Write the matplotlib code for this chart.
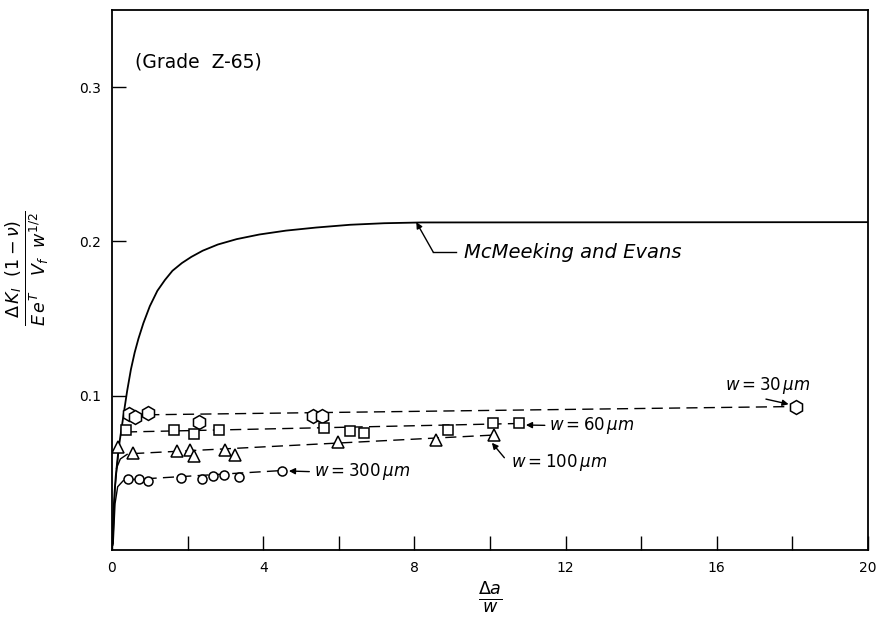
import matplotlib
matplotlib.use("Agg")
import matplotlib.pyplot as plt

# McMeeking and Evans prediction (solid curve)
me_x = [0.0, 0.02, 0.04, 0.07, 0.10, 0.15, 0.20, 0.26, 0.32, 0.40, 0.50,
        0.60, 0.70, 0.83, 1.00, 1.20, 1.40, 1.60, 1.85, 2.10, 2.40, 2.80,
        3.30, 3.90, 4.60, 5.40, 6.30, 7.20, 8.20, 20.0]
me_y = [0.0, 0.014, 0.026, 0.038, 0.048, 0.060, 0.070, 0.080, 0.090, 0.103,
        0.117, 0.128, 0.137, 0.147, 0.158, 0.168, 0.175, 0.181, 0.186, 0.190,
        0.194, 0.198, 0.2015, 0.2045, 0.207, 0.209, 0.2108, 0.2118, 0.2123,
        0.2125]

# measured points, one group per fibre spacing w
w30_x = [0.46, 0.61, 0.96, 2.29, 5.32, 5.55, 18.1]
w30_y = [0.088, 0.086, 0.089, 0.083, 0.087, 0.087, 0.093]
w60_x = [0.37, 1.64, 2.17, 2.84, 5.62, 6.30, 6.66, 8.88, 10.08, 10.76]
w60_y = [0.0775, 0.078, 0.075, 0.078, 0.079, 0.077, 0.076, 0.0775, 0.082, 0.082]
w100_x = [0.17, 0.56, 1.71, 2.07, 2.17, 2.99, 3.26, 5.97, 8.56, 10.1]
w100_y = [0.067, 0.063, 0.064, 0.065, 0.061, 0.0645, 0.0615, 0.070, 0.0714, 0.0747]
w300_x = [0.43, 0.72, 0.96, 1.82, 2.38, 2.68, 2.95, 3.37, 4.49]
w300_y = [0.046, 0.046, 0.045, 0.0465, 0.046, 0.048, 0.0487, 0.0476, 0.0515]

# dashed trend lines (end points)
w30_fit_x, w30_fit_y = [0.5, 18.1], [0.0875, 0.093]
w60_fit_x, w60_fit_y = [0.37, 10.76], [0.0765, 0.082]
w100_fit_x, w100_fit_y = [0.56, 10.1], [0.0625, 0.0745]
w300_fit_x, w300_fit_y = [0.43, 4.49], [0.0455, 0.0515]

# short solid curves rising from the origin
w300_rise_x = [0.03, 0.08, 0.15, 0.30]
w300_rise_y = [0.004, 0.030, 0.041, 0.045]
w100_rise_x = [0.02, 0.08, 0.14, 0.17]
w100_rise_y = [0.003, 0.040, 0.056, 0.063]
w100_branch_x = [0.12, 0.22, 0.40]
w100_branch_y = [0.053, 0.059, 0.062]

plt.rcParams["font.family"] = ["DejaVu Sans"]
plt.rcParams["mathtext.fontset"] = "dejavusans"

fig = plt.figure(figsize=(8.84, 6.28), dpi=100)
ax = fig.add_axes([112 / 884, 1 - 550 / 628, (868 - 112) / 884, (550 - 10) / 628])

k = "black"
ax.plot(me_x, me_y, color=k, lw=1.3)
ax.plot(w300_rise_x, w300_rise_y, color=k, lw=1.0)
ax.plot(w100_rise_x, w100_rise_y, color=k, lw=1.0)
ax.plot(w100_branch_x, w100_branch_y, color=k, lw=1.0)

dash = (0, (8, 4.5))
for fx, fy in [(w30_fit_x, w30_fit_y), (w60_fit_x, w60_fit_y),
               (w100_fit_x, w100_fit_y), (w300_fit_x, w300_fit_y)]:
    ax.plot(fx, fy, color=k, lw=1.0, linestyle=dash)

mk = dict(linestyle="none", mfc="white", mec=k, mew=1.1)
ax.plot(w30_x, w30_y, marker="h", ms=10, **mk)
ax.plot(w60_x, w60_y, marker="s", ms=6.5, **mk)
ax.plot(w100_x, w100_y, marker="^", ms=8.5, **mk)
ax.plot(w300_x, w300_y, marker="o", ms=6.5, **mk)

ax.set_xlim(0, 20)
ax.set_ylim(0, 0.35)
ax.set_xticks([0, 4, 8, 12, 16, 20])
ax.set_xticks([2, 6, 10, 14, 18], minor=True)
ax.set_yticks([0.1, 0.2, 0.3])
ax.set_yticklabels(["0.1", "0.2", "0.3"])
ax.tick_params(which="both", direction="in", length=10, width=1.0,
               labelsize=10, pad=8)
for s in ax.spines.values():
    s.set_linewidth(1.3)

ax.text(0.6, 0.316, "(Grade  Z-65)", fontsize=13.5, va="center")

ita = dict(fontsize=12, style="italic", va="center")
line = dict(color=k, lw=1.0, mutation_scale=9, shrinkA=0, shrinkB=0)

# McMeeking and Evans label with leader
ax.annotate("", xy=(8.05, 0.2125), xytext=(8.5, 0.193),
            arrowprops=dict(arrowstyle="-|>", **line))
ax.plot([8.5, 9.1], [0.193, 0.193], color=k, lw=1.0)
ax.text(9.3, 0.193, "McMeeking and Evans", fontsize=14, style="italic",
        va="center")

ax.text(17.35, 0.1068, r"$w = 30\,\mu m$", ha="center", **ita)
ax.annotate("", xy=(17.9, 0.0945), xytext=(17.3, 0.0978),
            arrowprops=dict(arrowstyle="-|>", **line))
ax.text(11.55, 0.0805, r"$w = 60\,\mu m$", **ita)
ax.annotate("", xy=(10.95, 0.081), xytext=(11.45, 0.0808),
            arrowprops=dict(arrowstyle="-|>", **line))
ax.text(10.55, 0.0565, r"$w = 100\,\mu m$", **ita)
ax.annotate("", xy=(10.05, 0.0695), xytext=(10.38, 0.0598),
            arrowprops=dict(arrowstyle="-|>", **line))
ax.text(5.35, 0.0506, r"$w = 300\,\mu m$", **ita)
ax.annotate("", xy=(4.68, 0.0512), xytext=(5.22, 0.0508),
            arrowprops=dict(arrowstyle="-|>", **line))

fig.text(28 / 884, 1 - 268 / 628,
         r"$\frac{\Delta\,K_I\ \ (1-\nu)}{E\,e^T\ \ \ V_f\ \ w^{1/2}}$",
         rotation=90, ha="center", va="center", fontsize=18)
fig.text(490 / 884, 1 - 598 / 628, r"$\frac{\Delta a}{w}$",
         ha="center", va="center", fontsize=18)

fig.savefig("out.png", dpi=100)
